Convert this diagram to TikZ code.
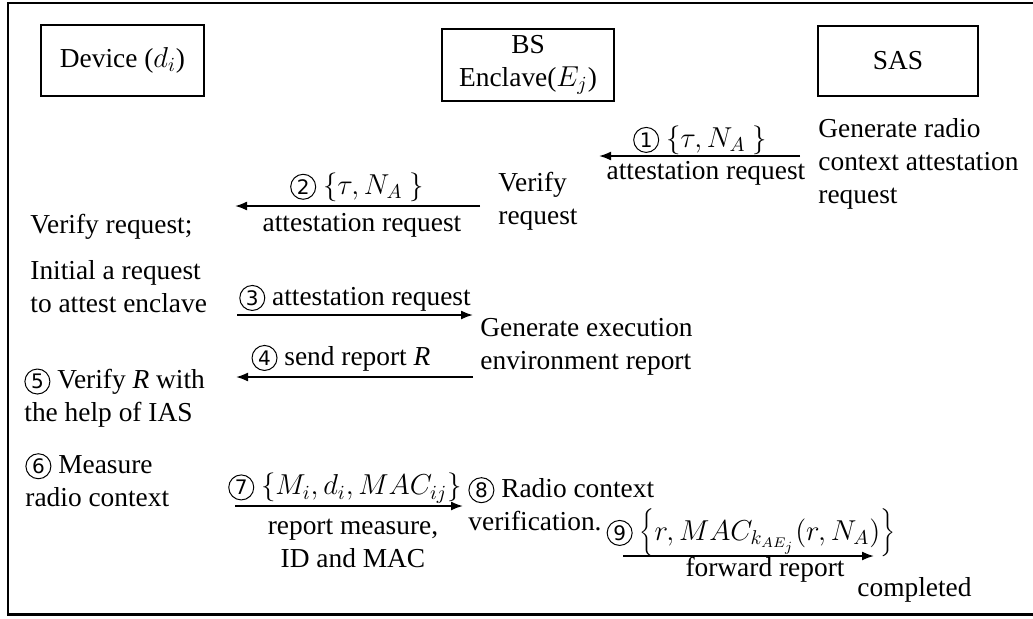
\documentclass[tikz,border=0pt]{standalone}
\usepackage{fontspec}
\setmainfont{Liberation Serif}
\newfontfamily\circfont{DejaVu Sans}
\usetikzlibrary{arrows.meta}
% circled step number
\newcommand{\stepno}[1]{\tikz[baseline=(stepcirc.base)]\node[circle,draw,line width=0.5pt,inner sep=0pt,minimum size=12.5pt,font=\circfont\fontsize{10pt}{10pt}\selectfont](stepcirc){#1};}

\begin{document}
\begin{tikzpicture}[x=0.5pt,y=-0.5pt,
  font=\fontsize{13.7pt}{16.5pt}\selectfont,
  party/.style={draw,line width=0.8pt,inner sep=0pt,align=center},
  note/.style={inner sep=0pt,align=left,anchor=west},
  lbl/.style={inner sep=0pt,align=center},
  msg/.style={line width=0.9pt,-{Latex[length=6pt,width=4.5pt]}}]
\useasboundingbox (0,0) rectangle (1033,618);

% outer frame
\draw[line width=1.3pt] (1045,3) -- (8,3) -- (8,614.5) -- (1045,614.5);

% parties
\node[party,minimum width=81.5pt,minimum height=35.5pt] (dev) at (122.5,60.5) {Device ($d_i$)};
\node[party,minimum width=86pt,minimum height=36pt] (bs) at (528,65) {BS\\Enclave($E_j$)};
\node[party,minimum width=80pt,minimum height=35pt] (sas) at (898,61) {SAS};

% local actions
\node[note] (sasgen) at (818,164) {Generate radio\\context attestation\\request};
\node[note] (bsver) at (498,201) {Verify\\request};
\node[note] (devver) at (30,227) {Verify request;};
\node[note] (devinit) at (30,287) {Initial a request\\to attest enclave};
\node[note] (bsgen) at (480,347) {Generate execution\\environment report};
\node[note] (devchk) at (24,398) {\stepno{5} Verify \textit{R} with\\the help of IAS};
\node[note] (devmeas) at (25,480) {\stepno{6} Measure\\radio context};
\node[note] (bsrc) at (468,504) {\stepno{8} Radio context\\verification.};
\node[note] (done) at (857,590) {completed};

% message end points
\coordinate (m1s) at (800,156); \coordinate (m1e) at (599,156);
\coordinate (m2s) at (480,206); \coordinate (m2e) at (235,206);
\coordinate (m3s) at (237,315); \coordinate (m3e) at (473,315);
\coordinate (m4s) at (473,377); \coordinate (m4e) at (236,377);
\coordinate (m7s) at (235,506); \coordinate (m7e) at (463,506);
\coordinate (m9s) at (623,556); \coordinate (m9e) at (874,556);

% messages
\draw[msg] (m1s) -- (m1e);
\draw[msg] (m2s) -- (m2e);
\draw[msg] (m3s) -- (m3e);
\draw[msg] (m4s) -- (m4e);
\draw[msg] (m7s) -- (m7e);
\draw[msg] (m9s) -- (m9e);

% message labels
\node[lbl] (l1a) at (700,140) {\stepno{1} $\{\tau, N_A\ \}$};
\node[lbl] (l1b) at (706,173) {attestation request};
\node[lbl] (l2a) at (357,187) {\stepno{2} $\{\tau, N_A\ \}$};
\node[lbl] (l2b) at (362,225) {attestation request};
\node[lbl] (l3a) at (355,298) {\stepno{3} attestation request};
\node[lbl] (l4a) at (341,358) {\stepno{4} send report \textit{R}};
\node[lbl] (l7a) at (345,488) {\stepno{7} $\bigl\{M_i, d_i, MAC_{ij}\bigr\}$};
\node[lbl] (l7b) at (353,543) {report measure,\\ID and MAC};
\node[lbl] (l9a) at (751,533) {\stepno{9} $\left\{r, MAC_{k_{AE_j}}(r, N_A)\right\}$};
\node[lbl] (l9b) at (765,570) {forward report};
\end{tikzpicture}
\end{document}
